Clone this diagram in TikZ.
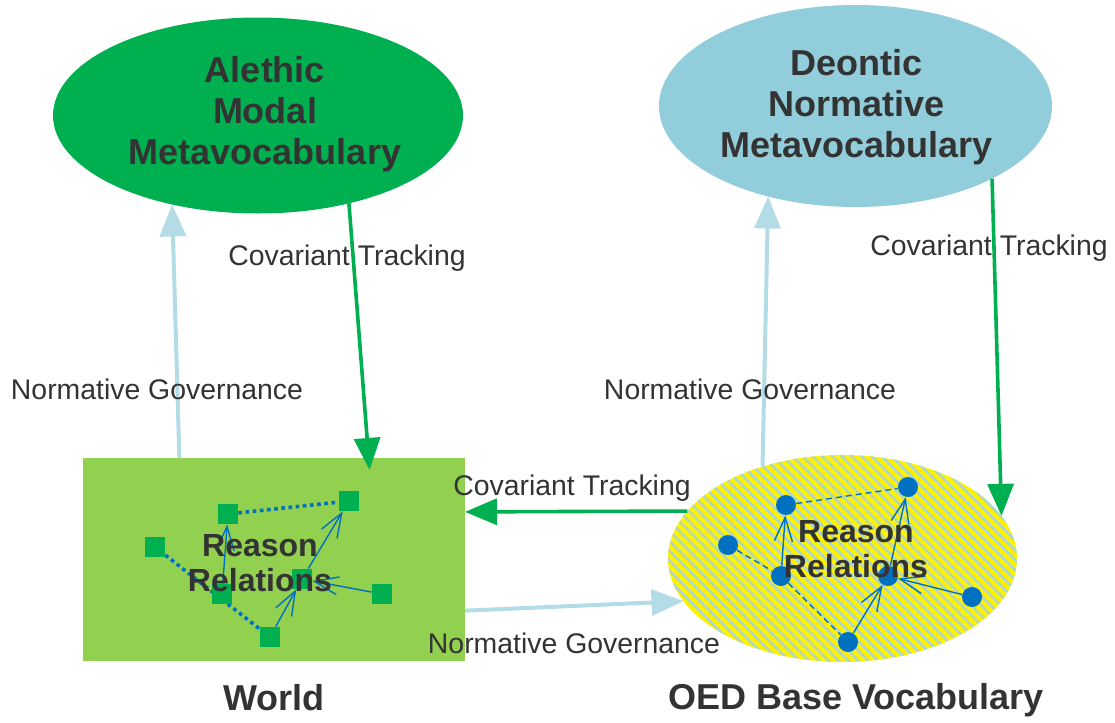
\documentclass[tikz,border=0pt]{standalone}
\usepackage{fontspec}
\setmainfont{Liberation Sans}
\usetikzlibrary{arrows.meta, shapes.geometric, patterns.meta, backgrounds}

\definecolor{darkgreen}{HTML}{00B050}
\definecolor{lightgreen}{HTML}{92D050}
\definecolor{paleblue}{HTML}{92CDDC}
\definecolor{arrowblue}{HTML}{B4DCE6}
\definecolor{dotblue}{HTML}{0070C0}
\definecolor{textgray}{HTML}{333333}
\definecolor{stripe}{HTML}{AFD5CF}

\begin{document}
\begin{tikzpicture}[x=0.5pt, y=-0.5pt]

  % Define styles
  \tikzstyle{vocab} = [ellipse, inner sep=0pt, outer sep=0pt]
  \tikzstyle{vocab_text} = [align=center, text=textgray, font=\fontsize{18}{20.5}\selectfont\bfseries]
  \tikzstyle{base} = [ellipse, inner sep=0pt, outer sep=0pt, preaction={fill=yellow}, pattern={Lines[angle=-45, distance=3.5pt, line width=1.25pt]}, pattern color=stripe]
  \tikzstyle{world_box} = [rectangle, fill=lightgreen, inner sep=0pt, outer sep=0pt]
  \tikzstyle{title} = [text=textgray, font=\fontsize{18}{20}\selectfont\bfseries]
  \tikzstyle{reason} = [align=center, text=textgray, font=\fontsize{16}{17.5}\selectfont\bfseries]
  \tikzstyle{lbl} = [text=textgray, font=\fontsize{14.2}{17}\selectfont, inner sep=0pt]
  \tikzstyle{track} = [draw=darkgreen, line width=1.8pt, -{Triangle[length=16pt, width=13pt]}]
  \tikzstyle{govern} = [draw=arrowblue, line width=2pt, -{Triangle[length=16pt, width=13pt]}]
  \tikzstyle{sq} = [rectangle, fill=darkgreen, minimum size=10pt, inner sep=0pt]
  \tikzstyle{blob} = [circle, fill=dotblue, minimum size=10pt, inner sep=0pt]
  \tikzstyle{rel} = [draw=dotblue, line width=0.7pt, -{Straight Barb[length=12pt, width=9pt]}]
  \tikzstyle{weak} = [draw=dotblue, line width=1.8pt, dash pattern=on 1.8pt off 1.8pt]
  \tikzstyle{faint} = [draw=dotblue, line width=0.7pt, dash pattern=on 3pt off 2pt]

  \useasboundingbox (0,0) rectangle (1115,723);

  % Vocabularies
  \begin{scope}[on background layer]
    \node[vocab, fill=darkgreen, minimum width=205pt, minimum height=98pt] (alethic) at (258,115.5) {};
    \node[vocab, fill=paleblue, minimum width=196.5pt, minimum height=101pt] (deontic) at (855.5,106) {};
    \node[world_box, minimum width=191pt, minimum height=101.5pt] (world) at (274,559.5) {};
    \node[base, minimum width=174.5pt, minimum height=103.5pt] (oed) at (842.5,558.5) {};
  \end{scope}

  \node[vocab_text] (alethictxt) at (265,114) {Alethic\\Modal\\Metavocabulary};
  \node[vocab_text] (deontictxt) at (856.5,107.5) {Deontic\\Normative\\Metavocabulary};

  \node[title] (worldlbl) at (274,698) {World};
  \node[title] (oedlbl) at (856,700) {OED Base Vocabulary};

  % World reason relations
  \node[sq] (r1) at (228,514) {};
  \node[sq] (r2) at (349,501) {};
  \node[sq] (r3) at (155,547) {};
  \node[sq] (r4) at (222,594) {};
  \node[sq] (r5) at (302,579) {};
  \node[sq] (r6) at (382,594) {};
  \node[sq] (r7) at (270,637) {};

  \begin{scope}[on background layer]
    \draw[weak] (r1) -- (r2);
    \draw[weak] (r3) -- (r7);
  \end{scope}

  \draw[rel] (r4) -- (r1);
  \draw[rel] (r7) -- (r5);
  \draw[rel] (r5) -- (r2);
  \draw[rel] (r6) -- (r5);

  \node[reason] (rr1) at (260,563) {Reason\\Relations};

  % OED reason relations
  \node[blob] (c1) at (786,505) {};
  \node[blob] (c2) at (908,487) {};
  \node[blob] (c3) at (728,545) {};
  \node[blob] (c4) at (781,576) {};
  \node[blob] (c5) at (888,576) {};
  \node[blob] (c6) at (972,597) {};
  \node[blob] (c7) at (848,642) {};

  \draw[faint] (c1) -- (c2);
  \draw[faint] (c3) -- (c4);
  \draw[faint] (c4) -- (c7);

  \draw[rel] (c4) -- (c1);
  \draw[rel] (c7) -- (c5);
  \draw[rel] (c5) -- (c2);
  \draw[rel] (c6) -- (c5);

  \node[reason] (rr2) at (856,549) {Reason\\Relations};

  % Governance and tracking
  \draw[govern] (world.133) -- (alethic.226);
  \draw[track, shorten >=-6pt] (alethic.316.4) -- (world.47.2);
  \draw[govern] (oed.131) -- (deontic.226);
  \draw[track] (deontic.332.3) -- (oed.15.8);
  \draw[track] (oed.163.4) -- (world.14.5);
  \draw[govern] (world.345.75) -- (oed.195.8);

  % Labels
  \node[lbl] (ng1) at (157,389) {Normative Governance};
  \node[lbl] (ct1) at (347,258) {Covariant Tracking};
  \node[lbl] (ng2) at (750,389) {Normative Governance};
  \node[lbl] (ct2) at (989,248) {Covariant Tracking};
  \node[lbl] (ct3) at (572,488) {Covariant Tracking};
  \node[lbl] (ng3) at (574,643) {Normative Governance};

\end{tikzpicture}
\end{document}
